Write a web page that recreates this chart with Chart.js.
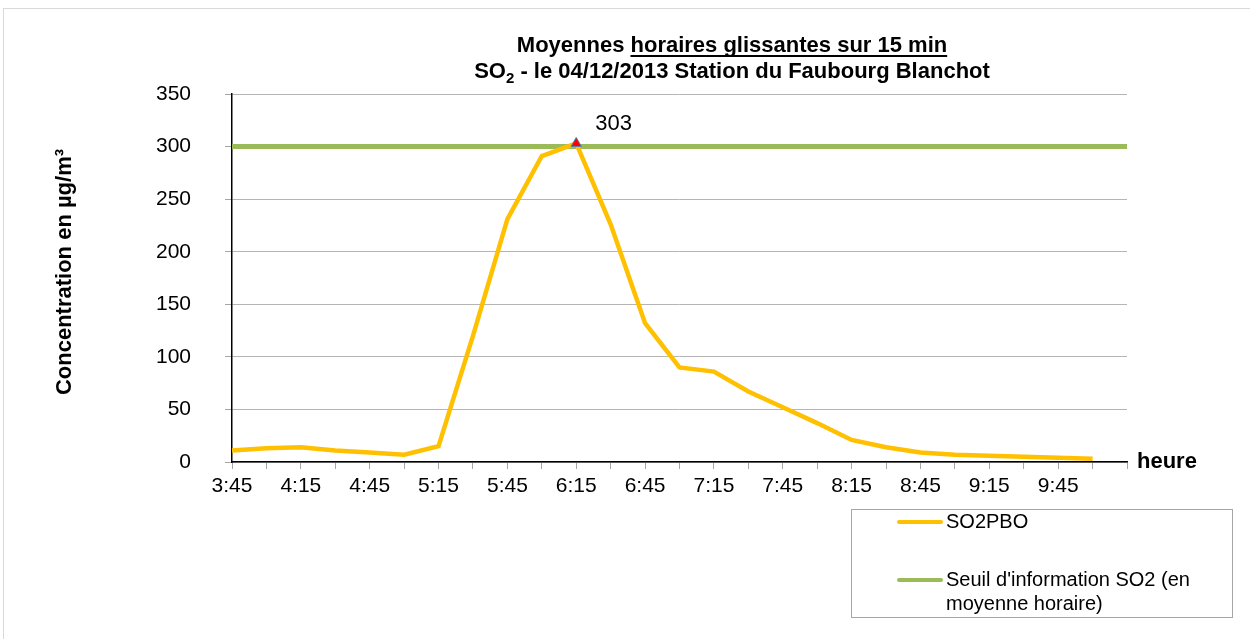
<!DOCTYPE html>
<html><head><meta charset="utf-8">
<script src="https://cdn.jsdelivr.net/npm/chart.js@4/dist/chart.umd.min.js"></script>
<style>html,body{margin:0;padding:0;background:#fff;}#wrap{width:1250px;height:639px;position:relative;}</style>
</head><body><div id="wrap"><canvas id="c" width="1250" height="639"></canvas></div>
<script>
// ---- data ----
const categories = ['3:45','4:00','4:15','4:30','4:45','5:00','5:15','5:30','5:45','6:00','6:15','6:30','6:45','7:00','7:15','7:30','7:45','8:00','8:15','8:30','8:45','9:00','9:15','9:30','9:45','10:00',''];
const so2pbo = [11,13,14,11,9,7,15,120,231,291,303,226,132,90,86,67,52,37,21,14,9,7,6,5,4,3,null];
const seuil = [300,300,300,300,300,300,300,300,300,300,300,300,300,300,300,300,300,300,300,300,300,300,300,300,300,300,300];
const seriesNames = ['SO2PBO', "Seuil d'information SO2 (en moyenne horaire)"];
const titleLine1 = ['Moyennes ', 'horaires glissantes sur 15 min'];
const titleLine2 = ['SO', '2', ' - le 04/12/2013 Station du Faubourg Blanchot'];
const yAxisTitle = 'Concentration en µg/m³';
const xAxisTitle = 'heure';
const yMin = 0, yMax = 350, yStep = 50;
const peakIndex = 10;

const FONT = '"Liberation Sans", Arial, Helvetica, sans-serif';
Chart.defaults.color = '#000';
Chart.defaults.font.family = FONT;

const decor = {
  id: 'decor',
  beforeDraw(chart) {
    const ctx = chart.ctx;
    ctx.save();
    ctx.fillStyle = '#fff';
    ctx.fillRect(0, 0, chart.width, chart.height);
    ctx.strokeStyle = '#D9D9D9';
    ctx.lineWidth = 1;
    ctx.strokeRect(3.5, 8.5, 1400, 800);
    ctx.restore();
  },
  afterDraw(chart) {
    const ctx = chart.ctx;
    const ca = chart.chartArea;
    ctx.save();
    ctx.fillStyle = '#000';
    // title
    const cx = 732;
    ctx.textBaseline = 'alphabetic';
    ctx.textAlign = 'left';
    ctx.font = 'bold 22px ' + FONT;
    const wa = ctx.measureText(titleLine1[0]).width;
    const wb = ctx.measureText(titleLine1[1]).width;
    let x = cx - (wa + wb) / 2;
    const y1 = 52;
    ctx.fillText(titleLine1[0], x, y1);
    ctx.fillText(titleLine1[1], x + wa, y1);
    ctx.fillRect(x + wa, y1 + 3, wb, 2);
    const y2 = 78;
    const wSO = ctx.measureText(titleLine2[0]).width;
    const wRest = ctx.measureText(titleLine2[2]).width;
    ctx.font = 'bold 15px ' + FONT;
    const wSub = ctx.measureText(titleLine2[1]).width;
    x = cx - (wSO + wSub + wRest) / 2;
    ctx.font = 'bold 22px ' + FONT;
    ctx.fillText(titleLine2[0], x, y2);
    ctx.font = 'bold 15px ' + FONT;
    ctx.fillText(titleLine2[1], x + wSO, y2 + 5);
    ctx.font = 'bold 22px ' + FONT;
    ctx.fillText(titleLine2[2], x + wSO + wSub, y2);

    // y axis title
    ctx.save();
    ctx.translate(65, 272);
    ctx.rotate(-Math.PI / 2);
    ctx.textAlign = 'center';
    ctx.textBaseline = 'middle';
    ctx.font = 'bold 22px ' + FONT;
    ctx.fillText(yAxisTitle, 0, 0);
    ctx.restore();

    // x axis title "heure"
    ctx.textAlign = 'left';
    ctx.textBaseline = 'middle';
    ctx.font = 'bold 22px ' + FONT;
    ctx.fillText(xAxisTitle, ca.right + 10, ca.bottom);

    // peak label
    const meta = chart.getDatasetMeta(0);
    const pt = meta.data[peakIndex];
    ctx.font = '22px ' + FONT;
    ctx.fillText(String(so2pbo[peakIndex]), pt.x + 19, pt.y - 19);

    // legend
    const lx = 851.5, ly = 509.5, lw = 381, lh = 108;
    ctx.strokeStyle = '#A6A6A6';
    ctx.lineWidth = 1;
    ctx.strokeRect(lx, ly, lw, lh);
    const rows = [522, 580];
    ctx.font = '20px ' + FONT;
    ctx.textBaseline = 'middle';
    chart.data.datasets.forEach((ds, i) => {
      const ry = rows[i];
      ctx.strokeStyle = ds.borderColor;
      ctx.lineWidth = 4;
      ctx.lineCap = 'round';
      ctx.beginPath();
      ctx.moveTo(899, ry);
      ctx.lineTo(941, ry);
      ctx.stroke();
      const maxW = 278;
      const words = ds.label.split(' ');
      const lines = [];
      let cur = '';
      words.forEach(w => {
        const t = cur ? cur + ' ' + w : w;
        if (ctx.measureText(t).width > maxW && cur) { lines.push(cur); cur = w; }
        else cur = t;
      });
      if (cur) lines.push(cur);
      ctx.fillStyle = '#000';
      lines.forEach((ln, k) => ctx.fillText(ln, 946, ry + k * 24));
    });
    ctx.restore();
  }
};

new Chart(document.getElementById('c'), {
  type: 'line',
  data: {
    labels: categories,
    datasets: [
      {
        label: seriesNames[0],
        data: so2pbo,
        borderColor: '#FFC000',
        backgroundColor: '#FFC000',
        borderWidth: 4.5,
        tension: 0,
        spanGaps: false,
        pointStyle: 'triangle',
        pointRadius: c => c.dataIndex === peakIndex ? 6 : 0,
        pointHoverRadius: 0,
        pointBackgroundColor: '#FF0000',
        pointBorderColor: '#4F81BD',
        pointBorderWidth: 1
      },
      {
        label: seriesNames[1],
        data: seuil,
        borderColor: '#9BBB59',
        backgroundColor: '#9BBB59',
        borderWidth: 5,
        tension: 0,
        pointRadius: 0,
        pointHoverRadius: 0
      }
    ]
  },
  options: {
    responsive: false,
    animation: false,
    devicePixelRatio: 1,
    events: [],
    layout: { padding: { left: 49, right: 123, top: 94, bottom: 137 } },
    plugins: {
      legend: { display: false },
      title: { display: false },
      tooltip: { enabled: false }
    },
    scales: {
      x: {
        afterFit: s => { s.height = 40; },
        grid: { drawOnChartArea: false, drawTicks: true, tickLength: 7, tickColor: '#A6A6A6', lineWidth: 1 },
        border: { color: '#000', width: 1.5 },
        ticks: {
          autoSkip: false, maxRotation: 0, padding: 5,
          font: { size: 21 }, color: '#000',
          callback: function(v, i) { return i % 2 === 0 ? this.getLabelForValue(v) : ''; }
        }
      },
      y: {
        min: yMin, max: yMax,
        afterFit: s => { s.width = 183; },
        grid: { color: '#B5B5B5', lineWidth: 1, tickLength: 7, tickColor: '#A6A6A6' },
        border: { color: '#000', width: 1.5 },
        ticks: { stepSize: yStep, padding: 34, font: { size: 21 }, color: '#000' },
        title: { display: false }
      }
    }
  },
  plugins: [decor]
});
</script>
</body></html>
